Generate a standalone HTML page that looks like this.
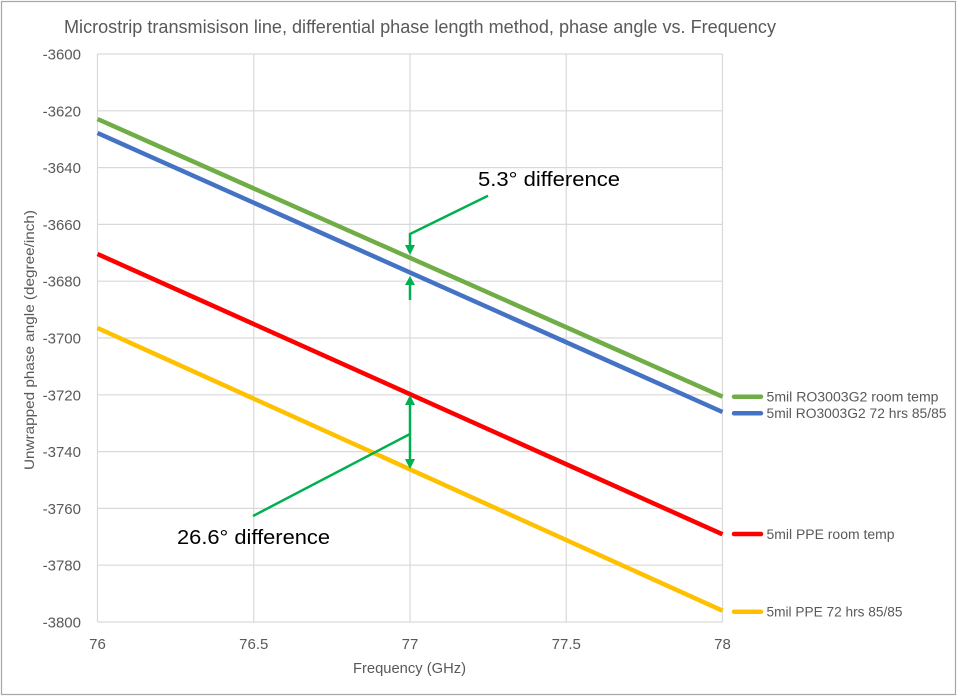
<!DOCTYPE html>
<html>
<head>
<meta charset="utf-8">
<style>
html,body{margin:0;padding:0;background:#fff;}
svg{display:block;}
text{font-family:"Liberation Sans",sans-serif;}
</style>
</head>
<body>
<svg width="960" height="696" viewBox="0 0 960 696" xmlns="http://www.w3.org/2000/svg">
<rect x="0" y="0" width="960" height="696" fill="#fff"/>
<rect x="1.5" y="1.5" width="954" height="693" fill="none" stroke="#a6a6a6" stroke-width="1.2"/>
<!-- title -->
<text x="64" y="33" font-size="18.5" fill="#595959" textLength="712" lengthAdjust="spacingAndGlyphs">Microstrip transmisison line, differential phase length method, phase angle vs. Frequency</text>
<!-- gridlines -->
<g stroke="#d9d9d9" stroke-width="1.2" fill="none">
<line x1="97.5" y1="54" x2="722.5" y2="54"/>
<line x1="97.5" y1="110.8" x2="722.5" y2="110.8"/>
<line x1="97.5" y1="167.6" x2="722.5" y2="167.6"/>
<line x1="97.5" y1="224.4" x2="722.5" y2="224.4"/>
<line x1="97.5" y1="281.2" x2="722.5" y2="281.2"/>
<line x1="97.5" y1="338" x2="722.5" y2="338"/>
<line x1="97.5" y1="394.8" x2="722.5" y2="394.8"/>
<line x1="97.5" y1="451.6" x2="722.5" y2="451.6"/>
<line x1="97.5" y1="508.4" x2="722.5" y2="508.4"/>
<line x1="97.5" y1="565.2" x2="722.5" y2="565.2"/>
<line x1="97.5" y1="622" x2="722.5" y2="622"/>
<line x1="97.5" y1="54" x2="97.5" y2="622"/>
<line x1="253.75" y1="54" x2="253.75" y2="622"/>
<line x1="410" y1="54" x2="410" y2="622"/>
<line x1="566.25" y1="54" x2="566.25" y2="622"/>
<line x1="722.5" y1="54" x2="722.5" y2="622"/>
</g>
<!-- y tick labels -->
<g font-size="15" fill="#595959" text-anchor="end">
<text x="81" y="59.5">-3600</text>
<text x="81" y="116.3">-3620</text>
<text x="81" y="173.1">-3640</text>
<text x="81" y="229.9">-3660</text>
<text x="81" y="286.7">-3680</text>
<text x="81" y="343.5">-3700</text>
<text x="81" y="400.3">-3720</text>
<text x="81" y="457.1">-3740</text>
<text x="81" y="513.9">-3760</text>
<text x="81" y="570.7">-3780</text>
<text x="81" y="627.5">-3800</text>
</g>
<!-- x tick labels -->
<g font-size="15" fill="#595959" text-anchor="middle">
<text x="97.5" y="649">76</text>
<text x="253.75" y="649">76.5</text>
<text x="410" y="649">77</text>
<text x="566.25" y="649">77.5</text>
<text x="722.5" y="649">78</text>
</g>
<!-- axis titles -->
<text x="353" y="673" font-size="14.5" fill="#595959" textLength="113" lengthAdjust="spacingAndGlyphs">Frequency (GHz)</text>
<text transform="translate(34,470) rotate(-90)" x="0" y="0" font-size="14" fill="#595959" textLength="260" lengthAdjust="spacingAndGlyphs">Unwrapped phase angle (degree/inch)</text>
<!-- series -->
<g stroke-width="4.5" fill="none" stroke-linecap="butt">
<line x1="97.5" y1="328" x2="722.5" y2="610.7" stroke="#FFC000"/>
<line x1="97.5" y1="254" x2="722.5" y2="534.3" stroke="#FF0000"/>
<line x1="97.5" y1="133" x2="722.5" y2="412" stroke="#4472C4"/>
<line x1="97.5" y1="119" x2="722.5" y2="396.7" stroke="#70AD47"/>
</g>
<!-- legend -->
<g stroke-width="4.5" stroke-linecap="round">
<line x1="734" y1="396.7" x2="761" y2="396.7" stroke="#70AD47"/>
<line x1="734" y1="413.3" x2="761" y2="413.3" stroke="#4472C4"/>
<line x1="734" y1="534" x2="761" y2="534" stroke="#FF0000"/>
<line x1="734" y1="611.7" x2="761" y2="611.7" stroke="#FFC000"/>
</g>
<g font-size="13.5" fill="#595959">
<text x="766.5" y="401.5" textLength="172" lengthAdjust="spacingAndGlyphs">5mil RO3003G2 room temp</text>
<text x="766.5" y="418" textLength="180" lengthAdjust="spacingAndGlyphs">5mil RO3003G2 72 hrs 85/85</text>
<text x="766.5" y="538.8" textLength="128" lengthAdjust="spacingAndGlyphs">5mil PPE room temp</text>
<text x="766.5" y="616.5" textLength="136" lengthAdjust="spacingAndGlyphs">5mil PPE 72 hrs 85/85</text>
</g>
<!-- annotations -->
<g stroke="#00B050" stroke-width="2.5" fill="none">
<polyline points="488,195.7 410,234 410,248"/>
<line x1="410" y1="300" x2="410" y2="283"/>
<line x1="410" y1="404" x2="410" y2="460"/>
<line x1="253" y1="516" x2="410" y2="434"/>
</g>
<g fill="#00B050">
<polygon points="405,245 415,245 410,255"/>
<polygon points="405,285 415,285 410,276"/>
<polygon points="405,405 415,405 410,395"/>
<polygon points="405,459 415,459 410,469"/>
</g>
<text x="478" y="186" font-size="20" fill="#000" textLength="142" lengthAdjust="spacingAndGlyphs">5.3° difference</text>
<text x="177" y="544" font-size="20" fill="#000" textLength="153" lengthAdjust="spacingAndGlyphs">26.6° difference</text>
</svg>
</body>
</html>
